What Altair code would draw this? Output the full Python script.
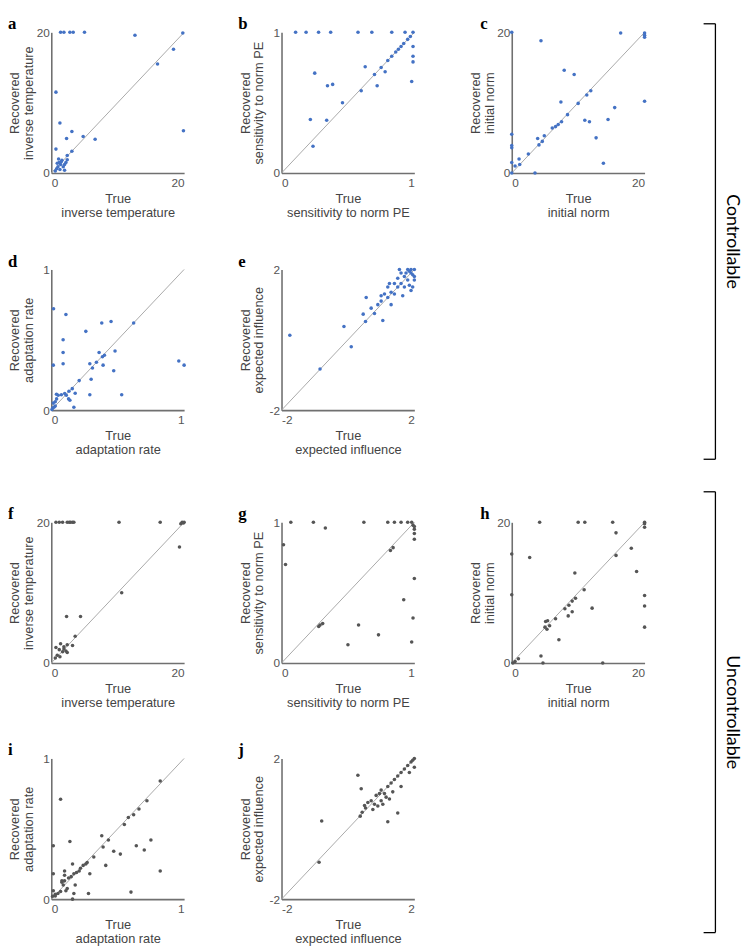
import altair as alt
import pandas as pd

BLUE = "#4472c4"
GREY = "#555555"

# ---------------- data ----------------
a_true = [1.4, 1.9, 2.8, 3.3, 5.0, 12.6, 0.7, 1.3, 3.1, 2.3, 4.8, 6.6, 0.7, 3.1, 2.4,
          0.6, 0.8, 1.0, 1.2, 1.4, 1.6, 1.8, 2.0, 2.2, 2.4, 1.3, 1.5, 2.0, 1.1, 0.9,
          16.0, 18.4, 19.8, 19.9]
a_rec = [20, 20, 20, 20, 20, 19.6, 11.5, 7.1, 5.9, 4.9, 5.2, 4.8, 3.4, 3.1, 2.5,
         0.3, 0.6, 0.9, 1.5, 1.2, 1.8, 0.9, 1.2, 1.5, 1.9, 0.5, 1.6, 0.4, 2.0, 1.4,
         15.5, 17.6, 19.9, 6.0]

b_true = [0.106, 0.185, 0.279, 0.370, 0.576, 0.68, 0.83, 0.93, 0.99,
          0.25, 0.346, 0.385, 0.459, 0.60, 0.63, 0.217, 0.34, 0.237,
          0.70, 0.75, 0.80, 0.83, 0.86, 0.88, 0.90, 0.92, 0.95, 0.97,
          0.78, 0.99, 0.99, 0.99, 0.98, 0.72]
b_rec = [1, 1, 1, 1, 1, 1, 1, 1, 1,
         0.71, 0.62, 0.63, 0.50, 0.585, 0.755, 0.38, 0.375, 0.19,
         0.70, 0.75, 0.80, 0.83, 0.86, 0.88, 0.90, 0.92, 0.95, 0.97,
         0.72, 0.90, 0.83, 0.79, 0.65, 0.62]

c_true = [0, 4.4, 7.9, 9.4, 7.4, 11.9, 11.3, 10.0, 8.4, 7.5, 7.0, 6.6, 6.1,
          11.0, 11.7, 12.7, 13.8, 3.9, 4.9, 4.6, 4.1, 2.5, 1.1, 0.5, 1.2, 3.5,
          0, 0, 0, 0, 0, 16.4, 20, 20, 20, 20, 15.5, 14.5]
c_rec = [20, 18.8, 14.6, 14.0, 10.1, 11.7, 11.1, 9.9, 8.3, 7.3, 6.9, 6.6, 6.4,
         7.5, 7.3, 5.0, 1.4, 4.9, 5.3, 4.5, 4.0, 2.7, 2.0, 1.0, 1.2, 0,
         5.5, 3.9, 3.6, 1.5, 0, 19.9, 19.9, 19.6, 19.3, 10.2, 9.3, 7.6]

d_true = [0.017, 0.11, 0.26, 0.38, 0.45, 0.089, 0.089, 0.015, 0.089, 0.48, 0.385, 0.40,
          0.36, 0.29, 0.31, 0.34, 0.39, 0.47, 0.30, 0.21, 0.158, 0.133, 0.101, 0.076,
          0.052, 0.039, 0.113, 0.18, 0.29, 0.53, 0.14, 0.13, 0.17, 0.015, 0.03, 0.04,
          0.005, 0.01, 0.02, 0.03, 0.62, 0.96, 1.0]
d_rec = [0.72, 0.68, 0.56, 0.62, 0.63, 0.50, 0.41, 0.32, 0.33, 0.42, 0.38, 0.39,
         0.41, 0.33, 0.30, 0.34, 0.32, 0.28, 0.22, 0.21, 0.153, 0.134, 0.118, 0.11,
         0.106, 0.113, 0.106, 0.12, 0.11, 0.11, 0.07, 0.08, 0.02, 0.05, 0.06, 0.08,
         0.005, 0.015, 0.02, 0.03, 0.62, 0.35, 0.32]

e_true = [-1.75, -0.84, -0.12, 0.10, 0.46, 0.53, 0.55,
          0.7, 0.8, 0.9, 1.0, 1.05, 1.1, 1.2, 1.2, 1.3, 1.3, 1.4, 1.4, 1.5, 1.5, 1.55,
          1.6, 1.6, 1.65, 1.7, 1.7, 1.75, 1.8, 1.8, 1.85, 1.9, 1.9, 1.95, 2.0, 2.0,
          2.0, 1.95, 1.9, 1.85, 1.0, 1.25]
e_rec = [0.13, -0.83, 0.38, -0.2, 0.73, 0.52, 1.2,
         0.9, 0.75, 1.0, 1.1, 0.55, 1.3, 1.2, 1.5, 1.35, 1.0, 1.6, 1.3, 1.5, 1.75, 2.0,
         1.6, 1.9, 1.25, 1.8, 1.5, 1.9, 1.7, 2.0, 1.55, 1.9, 2.0, 1.85, 2.0, 1.8,
         1.7, 1.5, 1.4, 1.95, 1.25, 1.6]

f_true = [0.7, 1.2, 1.7, 2.4, 2.7, 2.9, 3.2, 3.4, 10.2, 16.4, 19.5, 19.7, 19.9, 20,
          10.6, 2.3, 4.4, 3.6, 1.4, 2.4, 3.2, 0.7, 1.9, 1.2, 2.2, 2.4, 1.7, 0.9, 0.6,
          1.3, 1.9, 19.3]
f_rec = [20, 20, 20, 20, 20, 20, 20, 20, 20, 20, 19.8, 20, 19.9, 20,
         10.0, 6.6, 6.6, 3.8, 2.75, 2.6, 2.5, 2.2, 2.3, 1.9, 1.7, 1.5, 1.6, 1.1, 0.7,
         0.9, 2.0, 16.5]

g_true = [0.07, 0.24, 0.33, 0.62, 0.015, 0.03, 0.28, 0.29, 0.31, 0.58, 0.50,
          0.82, 0.84, 0.73, 0.92, 0.80, 0.85, 0.90, 0.95, 0.98, 0.99, 1.0, 1.0, 1.0,
          1.0, 0.99, 0.98, 1.0]
g_rec = [1, 1, 0.96, 1, 0.84, 0.70, 0.26, 0.27, 0.28, 0.27, 0.13,
         0.80, 0.82, 0.2, 0.45, 1, 1, 1, 1, 1, 0.98, 0.97, 0.95, 0.92,
         0.6, 0.32, 0.15, 0.88]

h_true = [4.2, 10.0, 11.0, 2.7, 9.5, 0, 0, 13.7, 4.7, 10.9, 9.6, 9.1, 8.6, 8.0, 6.6,
          5.7, 5.4, 5.1, 5.3, 5.0, 1.0, 0.5, 0.15, 8.5, 9.1, 12.1, 7.1, 4.4,
          15.2, 15.7, 20, 20, 20, 18.0, 15.7, 18.8, 20, 20, 20]
h_rec = [20, 20, 20, 15.0, 12.8, 15.5, 9.7, 0, 0, 10.4, 9.2, 8.8, 8.2, 7.7, 6.3,
         5.3, 6.0, 5.9, 4.8, 5.1, 0.6, 0.2, 0, 6.7, 7.3, 7.8, 3.3, 1.0,
         20, 18.5, 20, 19.8, 19.3, 16.3, 15.3, 13.0, 9.6, 8.1, 5.1]

i_true = [0.07, 0.14, 0.38, 0.43, 0.39, 0.47, 0.52, 0.55, 0.41, 0.32,
          0.27, 0.26, 0.24, 0.22, 0.21, 0.19, 0.17, 0.15, 0.13, 0.10, 0.08,
          0.16, 0.29, 0.10, 0.10, 0.08, 0.09, 0.015, 0.015,
          0.015, 0.03, 0.05, 0.07, 0.01, 0.03, 0.11, 0.12, 0.18, 0.17, 0.16, 0.28,
          0.58, 0.62, 0.66, 0.72, 0.82, 0.64, 0.70, 0.82, 0.60, 0.75]
i_rec = [0.71, 0.41, 0.45, 0.42, 0.37, 0.34, 0.32, 0.53, 0.24, 0.30,
         0.26, 0.25, 0.24, 0.22, 0.20, 0.19, 0.18, 0.16, 0.15, 0.13, 0.12,
         0.25, 0.18, 0.20, 0.17, 0.13, 0.10, 0.38, 0.18,
         0.06, 0.035, 0.04, 0.054, 0.02, 0.023, 0.06, 0.075, 0.10, 0.04, 0.0, 0.04,
         0.58, 0.60, 0.64, 0.70, 0.84, 0.38, 0.35, 0.20, 0.05, 0.42]

j_true = [-0.79, -0.87, 0.30, 0.40, 0.50, 0.43, 0.37, 0.53,
          0.6, 0.7, 0.75, 0.8, 0.85, 0.9, 0.95, 1.0, 1.0, 1.05, 1.1, 1.15, 1.2, 1.25,
          1.3, 1.35, 1.4, 1.5, 1.6, 1.6, 1.7, 1.8, 1.85, 1.9, 2.0, 2.0, 1.95, 1.2, 1.5]
j_rec = [0.22, -0.95, 1.52, 1.14, 0.66, 0.47, 0.36, 0.59,
         0.75, 0.8, 0.55, 0.7, 0.95, 0.65, 1.0, 0.8, 1.1, 0.7, 1.0, 0.9, 1.2, 0.85,
         1.3, 1.05, 1.4, 1.5, 1.6, 1.2, 1.7, 1.8, 1.6, 1.9, 2.0, 1.75, 1.95, 0.2, 0.45]

param_names = ["inverse temperature", "sensitivity to norm PE", "initial norm",
               "adaptation rate", "expected influence"]
param_ranges = [[0, 20], [0, 1], [0, 20], [0, 1], [-2, 2]]

# bracket extents, in units of panel rows (0 = top of first row, 4 = bottom of last)
groups = ["Controllable", "Uncontrollable"]
group_start = [-0.04, 2.147]
group_end = [1.995, 4.207]

# ---------------- styling ----------------
W, H = 135, 143
LABEL_FONT = "Liberation Sans"


def make_panel(letter, k, xs, ys, color, col):
    dom = param_ranges[k]
    name = param_names[k]
    sx = alt.Scale(domain=dom, nice=False, zero=False)
    sy = alt.Scale(domain=dom, nice=False, zero=False)
    common = dict(values=dom, ticks=False, grid=False, domainColor="#707070",
                  domainWidth=1.6, labelColor="#555555", labelFontSize=12,
                  labelFont=LABEL_FONT, titleFont=LABEL_FONT, titleFontSize=13,
                  titleFontWeight="normal", titleColor="#444444",
                  titleLineHeight=14, labelExpr="'' + datum.value")
    xaxis = alt.Axis(title=["True", name], labelPadding=5, titlePadding=4, **common)
    yaxis = alt.Axis(title=["Recovered", name], labelPadding=2, titlePadding=2,
                     minExtent=14, maxExtent=14, **common)
    diag = alt.Chart(pd.DataFrame({"t": dom, "r": dom})).mark_line(
        color="#a8a8a8", strokeWidth=1
    ).encode(x=alt.X("t:Q", scale=sx, axis=xaxis), y=alt.Y("r:Q", scale=sy, axis=yaxis))
    pts = alt.Chart(pd.DataFrame({"t": xs, "r": ys})).mark_circle(
        size=13, color=color, opacity=1
    ).encode(x=alt.X("t:Q", scale=sx), y=alt.Y("r:Q", scale=sy))
    return alt.layer(diag, pts).properties(
        width=W, height=H,
        title=alt.TitleParams(letter, anchor="start", frame="group",
                              font="Liberation Serif", fontSize=17, fontWeight="bold",
                              color="black", offset=-7, dx=-44 if col < 2 else -32),
    )


def blank():
    return alt.Chart(pd.DataFrame({"v": [0]})).mark_point(opacity=0).encode(
        x=alt.X("v:Q", axis=None), y=alt.Y("v:Q", axis=None)
    ).properties(width=W, height=H)


top = alt.concat(
    make_panel("a", 0, a_true, a_rec, BLUE, 0),
    make_panel("b", 1, b_true, b_rec, BLUE, 1),
    make_panel("c", 2, c_true, c_rec, BLUE, 2),
    make_panel("d", 3, d_true, d_rec, BLUE, 0),
    make_panel("e", 4, e_true, e_rec, BLUE, 1),
    blank(),
    columns=3, align="all", spacing={"row": 34, "column": 53},
)
bottom = alt.concat(
    make_panel("f", 0, f_true, f_rec, GREY, 0),
    make_panel("g", 1, g_true, g_rec, GREY, 1),
    make_panel("h", 2, h_true, h_rec, GREY, 2),
    make_panel("i", 3, i_true, i_rec, GREY, 0),
    make_panel("j", 4, j_true, j_rec, GREY, 1),
    blank(),
    columns=3, align="all", spacing={"row": 33, "column": 53},
)
main = alt.vconcat(top, bottom, spacing=50)

bdf = pd.DataFrame({"group": groups, "start": group_start, "end": group_end})
by = alt.Scale(domain=[0, 4], nice=False, zero=False, reverse=True)
bbase = alt.Chart(bdf)
vline = bbase.mark_rule(color="black", strokeWidth=1.3).encode(
    y=alt.Y("start:Q", scale=by, axis=None), y2="end:Q", x=alt.value(12))
tick_top = bbase.mark_rule(color="black", strokeWidth=1.3).encode(
    y=alt.Y("start:Q", scale=by, axis=None), x=alt.value(0), x2=alt.value(12))
tick_bot = bbase.mark_rule(color="black", strokeWidth=1.3).encode(
    y=alt.Y("end:Q", scale=by, axis=None), x=alt.value(0), x2=alt.value(12))
label = bbase.transform_calculate(mid="(datum.start + datum.end) / 2").mark_text(
    angle=90, fontSize=18, font="Lato", color="black", align="center", baseline="middle"
).encode(y=alt.Y("mid:Q", scale=by, axis=None), x=alt.value(29), text="group:N")
bracket = alt.layer(vline, tick_top, tick_bot, label).properties(width=28, height=870)

chart = alt.hconcat(main, bracket, spacing=57).configure_view(stroke=None).properties(
    padding={"left": 0, "top": 0, "right": 0, "bottom": 0}
)

chart.save("out.html", embed_options={"renderer": "svg", "actions": False})
